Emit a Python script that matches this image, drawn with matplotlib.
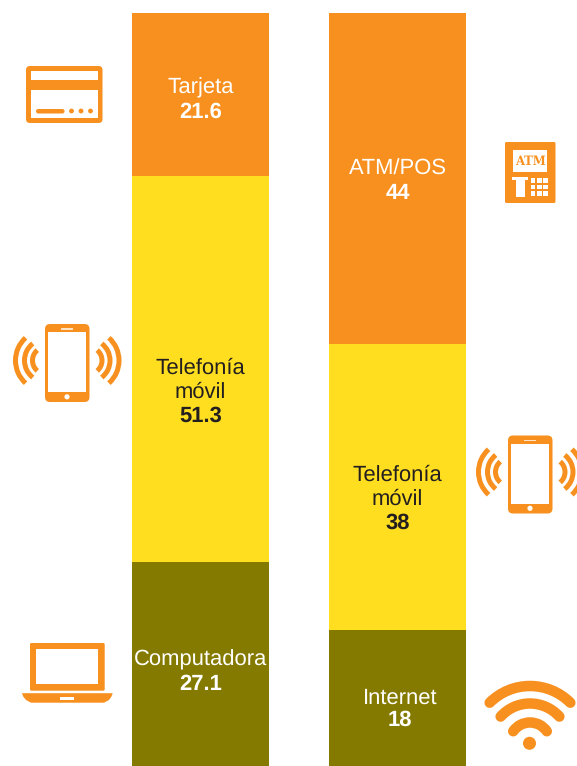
import matplotlib
matplotlib.use("Agg")
import matplotlib.pyplot as plt
from matplotlib.patches import Rectangle, FancyBboxPatch, Circle, Arc, Polygon

plt.rcParams['font.family'] = ['Liberation Sans', 'DejaVu Sans']
plt.rcParams['text.hinting'] = 'no_hinting'
plt.rcParams['text.hinting_factor'] = 1

# valores de cada columna, de arriba hacia abajo
left_names = ['Tarjeta', 'Telefonía\nmóvil', 'Computadora']
left_values = [21.6, 51.3, 27.1]
right_names = ['ATM/POS', 'Telefonía\nmóvil', 'Internet']
right_values = [44, 38, 18]

ORANGE = '#F7901E'
YELLOW = '#FFDD1F'
OLIVE = '#857A00'
DARK = '#231F20'
seg_colors = [ORANGE, YELLOW, OLIVE]
text_colors = ['white', DARK, 'white']

W, H = 577, 766
fig = plt.figure(figsize=(W / 100, H / 100), dpi=100)

# ejes de las barras: 100 unidades ocupan de y=13 a y=766
ax = fig.add_axes([0, 0, 1, 1])
ax.set_xlim(0, W)
ax.set_ylim(0, H / 7.53)
ax.axis('off')

# ejes en pixeles para iconos y textos
pax = fig.add_axes([0, 0, 1, 1])
pax.set_xlim(0, W)
pax.set_ylim(H, 0)
pax.axis('off')
pax.patch.set_alpha(0)


def draw_stack(values, x_left, width):
    top = 100
    for v, c in zip(values, seg_colors):
        ax.bar(x_left, v, width=width, bottom=top - v, align='edge', color=c, linewidth=0)
        top -= v


def rrect(x0, y0, x1, y1, r, color):
    pax.add_patch(FancyBboxPatch((x0 + r, y0 + r), x1 - x0 - 2 * r, y1 - y0 - 2 * r,
                                 boxstyle=f'round,pad={r},rounding_size={r}',
                                 fc=color, ec='none'))


def rect(x0, y0, x1, y1, color):
    pax.add_patch(Rectangle((x0, y0), x1 - x0, y1 - y0, fc=color, ec='none'))


def arc(cx, cy, r, mid, half, lw, cap='butt'):
    pax.add_patch(Arc((cx, cy), 2 * r, 2 * r, theta1=mid - half, theta2=mid + half, color=ORANGE,
                      lw=lw * 0.72, capstyle=cap))


def card_icon():
    rrect(26, 66, 102.5, 123, 4, ORANGE)
    rect(31, 71, 98, 80, 'white')
    rect(31, 89.5, 98, 118, 'white')
    rrect(36, 109, 64.5, 113.5, 2.2, ORANGE)
    for x in [71.5, 81, 90.5]:
        pax.add_patch(Circle((x, 111), 2.4, fc=ORANGE, ec='none'))


def phone_icon(dx, dy):
    rrect(45 + dx, 324 + dy, 89.5 + dx, 402 + dy, 5, ORANGE)
    rect(48 + dx, 332 + dy, 86 + dx, 392 + dy, 'white')
    rect(61 + dx, 328.2 + dy, 73 + dx, 329.8 + dy, '#FDE3C4')
    pax.add_patch(Circle((67 + dx, 396.8 + dy), 2.6, fc='white', ec='none'))
    for r, half in [(30.5, 48), (21.5, 52), (13.5, 50)]:
        arc(46 + dx, 360.5 + dy, r, 180, half, 5)
        arc(88.5 + dx, 360.5 + dy, r, 0, half, 5)


def laptop_icon():
    rrect(30, 643, 104.7, 690.7, 1.5, ORANGE)
    rect(36, 649.3, 98, 683.7, 'white')
    pax.add_patch(Polygon([(22, 693.2), (112.7, 693.2), (111.5, 696.5), (109, 700), (104, 702.7),
                           (31, 702.7), (26, 700), (23.2, 696.5)], fc=ORANGE, ec='none'))
    rect(60, 696.5, 74, 700, 'white')


def atm_icon():
    rrect(505, 142, 555.5, 203, 1.5, ORANGE)
    rect(513.3, 149.5, 547, 172, 'white')
    pax.text(530.2, 161, 'ATM', color=ORANGE, family='DejaVu Serif', stretch='condensed',
             weight='bold', fontsize=9.5, ha='center', va='center')
    rect(512, 177, 528, 180, 'white')
    rect(516, 180, 525, 197, 'white')
    for i in range(3):
        for j in range(3):
            rect(531 + 6.2 * j, 178 + 6.5 * i, 535.4 + 6.2 * j, 182.5 + 6.5 * i, 'white')


def wifi_icon():
    arc(530, 743, 57, 270, 45, 10.5, 'round')
    arc(530, 743, 39.5, 270, 48, 10.5, 'round')
    arc(530, 743, 20.5, 270, 55, 10.5, 'round')
    pax.add_patch(Circle((529.5, 743.3), 6.5, fc=ORANGE, ec='none'))


def label(x, y, name, color):
    pax.text(x, y, name, color=color, fontsize=15.8, ha='center', va='center', linespacing=1.18)


def number(x, y, value, color):
    pax.text(x, y, str(value), color=color, fontsize=15.8, weight='bold', ha='center', va='center')


draw_stack(left_values, 132, 137)
draw_stack(right_values, 329, 137)

card_icon()
phone_icon(0, 0)
laptop_icon()
atm_icon()
phone_icon(463, 111.5)
wifi_icon()

# textos de la columna izquierda
label_y = [88, 380, 659.5]
value_y = [112, 416, 684.5]
for n, v, y, vy, c in zip(left_names, left_values, label_y, value_y, text_colors):
    label(200.5, y, n, c)
    number(200.5, vy, v, c)

# textos de la columna derecha
label_y = [169.5, 487, 698.5]
value_y = [193.5, 523, 720.5]
label_x = [397.5, 397.5, 400]
for n, v, x, y, vy, c in zip(right_names, right_values, label_x, label_y, value_y, text_colors):
    label(x, y, n, c)
    number(x if x < 400 else 399.5, vy, v, c)

fig.savefig('out.png', dpi=100)
